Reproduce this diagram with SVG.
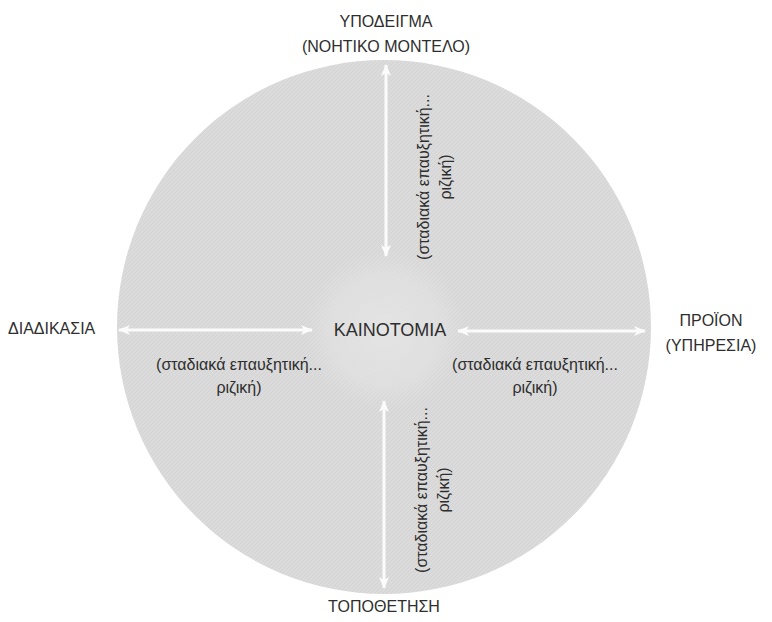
<svg xmlns="http://www.w3.org/2000/svg" width="772" height="622" viewBox="0 0 772 622">
<style>
text{font-family:"Liberation Sans",Arial,sans-serif;fill:#2e2e2e}
.lbl{font-size:16px}
.sub{font-size:16px}
.arr{stroke:#fbfbfb;stroke-width:3;fill:none;marker-start:url(#ah);marker-end:url(#ah)}
</style>
<defs>
<marker id="ah" viewBox="0 0 12 10" refX="11" refY="5" markerWidth="12" markerHeight="10" markerUnits="userSpaceOnUse" orient="auto-start-reverse">
<path d="M0,0 L12,5 L0,10 L3,5 Z" fill="#fbfbfb"/>
</marker>
<pattern id="tex" width="4" height="4" patternUnits="userSpaceOnUse">
<rect width="4" height="4" fill="#dbdbdb"/>
<path d="M0,4 L4,0" stroke="#d0d0d0" stroke-width="0.8"/>
</pattern>
<radialGradient id="inner" cx="0.5" cy="0.5" r="0.5">
<stop offset="0" stop-color="#e6e6e6" stop-opacity="0.85"/>
<stop offset="0.7" stop-color="#e3e3e3" stop-opacity="0.6"/>
<stop offset="1" stop-color="#e0e0e0" stop-opacity="0"/>
</radialGradient>
</defs>
<rect width="772" height="622" fill="#ffffff"/>
<g id="circle">
<circle cx="384" cy="327" r="267" fill="url(#tex)"/>
<circle cx="385" cy="330" r="80" fill="url(#inner)"/>
</g>
<g id="connectors">
<line class="arr" x1="386" y1="65" x2="386" y2="256"/>
<line class="arr" x1="384" y1="401" x2="384" y2="588"/>
<line class="arr" x1="119" y1="330" x2="312" y2="330"/>
<line class="arr" x1="458" y1="331" x2="645" y2="331"/>
</g>
<g id="center">
<text x="390" y="336" font-size="18" text-anchor="middle">ΚΑΙΝΟΤΟΜΙΑ</text>
</g>
<g id="top">
<text class="lbl" x="386" y="27" text-anchor="middle">ΥΠΟΔΕΙΓΜΑ</text>
<text class="lbl" x="386" y="52" text-anchor="middle">(ΝΟΗΤΙΚΟ ΜΟΝΤΕΛΟ)</text>
</g>
<g id="left">
<text class="lbl" x="8" y="334">ΔΙΑΔΙΚΑΣΙΑ</text>
</g>
<g id="right">
<text class="lbl" x="711" y="326" text-anchor="middle">ΠΡΟΪΟΝ</text>
<text class="lbl" x="711" y="351" text-anchor="middle">(ΥΠΗΡΕΣΙΑ)</text>
</g>
<g id="bottom">
<text class="lbl" x="384" y="612" text-anchor="middle">ΤΟΠΟΘΕΤΗΣΗ</text>
</g>
<g id="sub-left">
<text class="sub" x="239" y="370" text-anchor="middle">(σταδιακά επαυξητική...</text>
<text class="sub" x="239" y="393" text-anchor="middle">ριζική)</text>
</g>
<g id="sub-right">
<text class="sub" x="535" y="370" text-anchor="middle">(σταδιακά επαυξητική...</text>
<text class="sub" x="535" y="393" text-anchor="middle">ριζική)</text>
</g>
<g id="sub-top">
<text class="sub" text-anchor="middle" transform="translate(429 177) rotate(-90)">(σταδιακά επαυξητική...</text>
<text class="sub" text-anchor="middle" transform="translate(451 177) rotate(-90)">ριζική)</text>
</g>
<g id="sub-bottom">
<text class="sub" text-anchor="middle" transform="translate(427 490) rotate(-90)">(σταδιακά επαυξητική...</text>
<text class="sub" text-anchor="middle" transform="translate(449 490) rotate(-90)">ριζική)</text>
</g>
</svg>
